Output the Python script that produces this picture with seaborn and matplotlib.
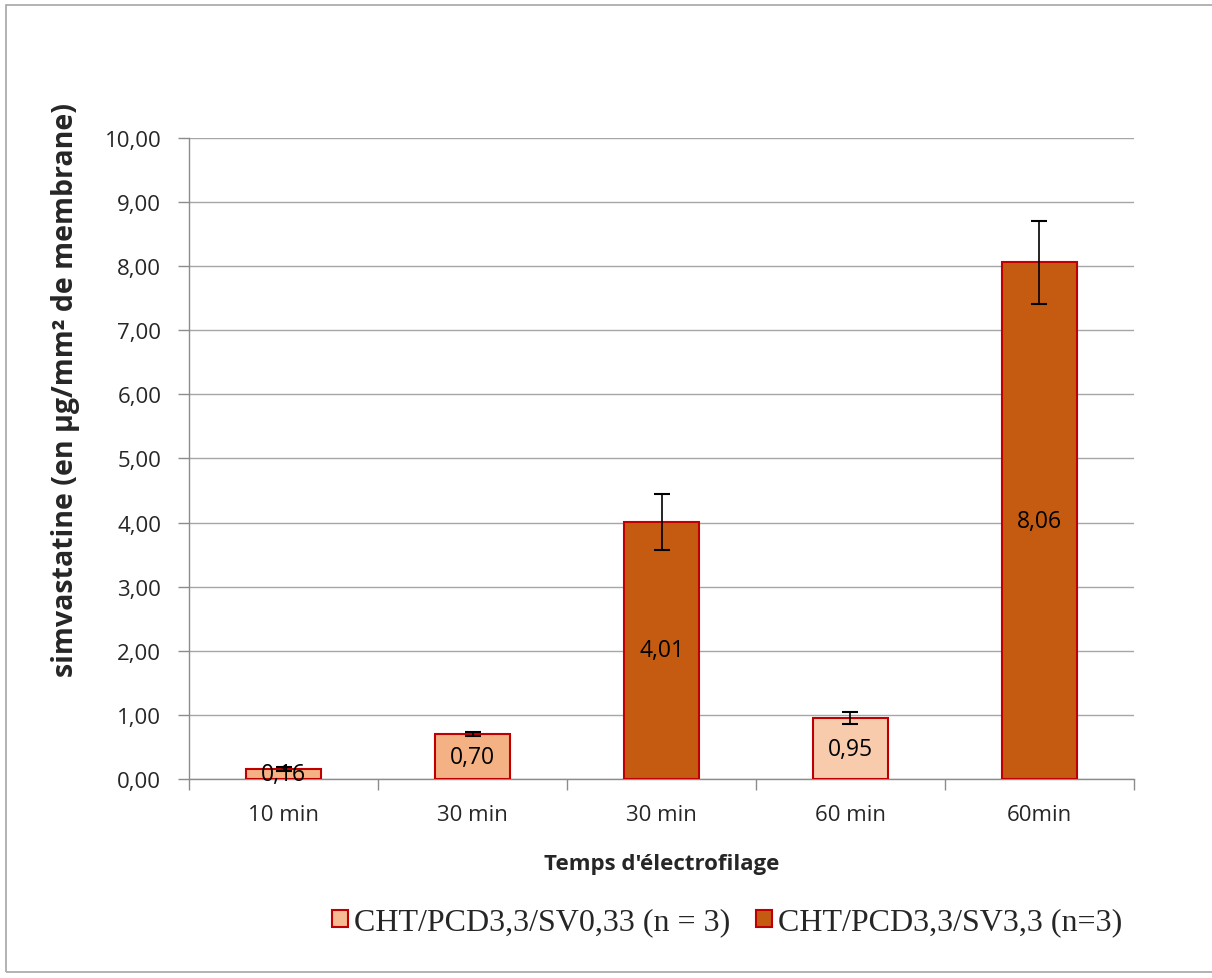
import matplotlib
matplotlib.use("Agg")
import matplotlib.pyplot as plt
import seaborn as sns
import pandas as pd
import numpy as np
from matplotlib.patches import Patch, Rectangle

# ---- data ----
bar_ids = ["b1", "b2", "b3", "b4", "b5"]
tick_labels = ["10 min", "30 min", "30 min", "60 min", "60min"]
values = [0.16, 0.70, 4.01, 0.95, 8.06]
errors = [0.03, 0.03, 0.44, 0.10, 0.65]
series = ["CHT/PCD3,3/SV0,33 (n = 3)", "CHT/PCD3,3/SV0,33 (n = 3)",
          "CHT/PCD3,3/SV3,3 (n=3)", "CHT/PCD3,3/SV0,33 (n = 3)",
          "CHT/PCD3,3/SV3,3 (n=3)"]
series_names = ["CHT/PCD3,3/SV0,33 (n = 3)", "CHT/PCD3,3/SV3,3 (n=3)"]
bar_colors = ["#F4B183", "#F4B183", "#C55A11", "#F8CBAD", "#C55A11"]
legend_colors = ["#F6BB92", "#C55A11"]
y_ticks = [0, 1, 2, 3, 4, 5, 6, 7, 8, 9, 10]

df = pd.DataFrame({"id": bar_ids, "value": values, "series": series})

sns.set_theme(style="white")
plt.rcParams["font.family"] = ["Open Sans", "DejaVu Sans"]

fig = plt.figure(figsize=(12.12, 9.79), dpi=100)
ax = fig.add_axes([0.156, 0.2033, 0.7796, 0.6547])

sns.barplot(data=df, x="id", y="value", hue="series", order=bar_ids,
            hue_order=series_names, palette=legend_colors, dodge=False,
            width=0.4, edgecolor="#C00000", linewidth=1.5, ax=ax,
            legend=False, errorbar=None, zorder=3)

# recolor individual bars
bars = [p for p in ax.patches if p.get_height() > 0]
bars.sort(key=lambda p: p.get_x())
for p, c in zip(bars, bar_colors):
    p.set_facecolor(c)

xpos = np.arange(len(bar_ids))
ax.errorbar(xpos, values, yerr=errors, fmt="none", ecolor="black",
            elinewidth=1.2, capsize=6, capthick=1.5, zorder=4)

for x, v in zip(xpos, values):
    ax.text(x, v / 2, f"{v:.2f}".replace(".", ","), ha="center", va="center",
            fontsize=16.5, color="black", zorder=5)

ax.set_ylim(0, 10)
ax.set_xlim(-0.5, len(bar_ids) - 0.5)
ax.set_yticks(y_ticks)
ax.set_yticklabels([f"{t:.2f}".replace(".", ",") for t in y_ticks], fontsize=16)
ax.set_xticks(xpos)
ax.set_xticklabels(tick_labels, fontsize=16)
ax.set_xticks(np.arange(-0.5, len(bar_ids)), minor=True)
ax.tick_params(axis="x", which="major", length=0, pad=18)
ax.tick_params(axis="x", which="minor", length=8, color="#8C8C8C", width=1, direction="out", bottom=True)
ax.tick_params(axis="y", length=8, color="#8C8C8C", width=1, direction="out", left=True, pad=12)

ax.yaxis.grid(True, color="#A6A6A6", linewidth=1, zorder=0)
ax.set_axisbelow(True)
for s in ["top", "right"]:
    ax.spines[s].set_visible(False)
for s in ["left", "bottom"]:
    ax.spines[s].set_color("#8C8C8C")
    ax.spines[s].set_linewidth(1)

ax.set_xlabel("Temps d'électrofilage", fontsize=16, fontweight="bold", labelpad=20)
ax.set_ylabel("simvastatine (en µg/mm² de membrane)", fontsize=20.5, fontweight="bold")
ax.yaxis.set_label_coords(-0.131, 0.608)
ax.yaxis.label.set_va("center")

handles = [Patch(facecolor=c, edgecolor="#C00000", linewidth=1.5) for c in legend_colors]
fig.legend(handles, series_names, loc="center", bbox_to_anchor=(0.6, 0.057),
           ncol=2, frameon=False, handlelength=0.5, handleheight=0.45,
           handletextpad=0.2, columnspacing=0.8,
           prop={"family": "Liberation Serif", "size": 23})

fig.patches.append(Rectangle((6 / 1212, 6 / 979), 1.0, 1 - 12 / 979,
                             transform=fig.transFigure, fill=False,
                             edgecolor="#A6A6A6", linewidth=1.2))

fig.savefig("out.png", dpi=100)
